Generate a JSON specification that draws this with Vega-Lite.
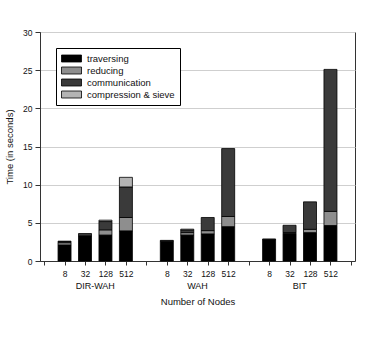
{
  "$schema": "https://vega.github.io/schema/vega-lite/v6.json",
  "autosize": "none",
  "width": 315,
  "height": 229,
  "padding": {"left": 40, "top": 32, "right": 19, "bottom": 84},
  "config": {
    "font": "Liberation Sans",
    "view": {"stroke": "#333", "strokeWidth": 1},
    "axis": {"labelColor": "#111", "titleColor": "#111", "titleFontWeight": "normal", "domainColor": "#333", "tickColor": "#333"}
  },
  "layer": [
    {
      "data": {
        "values": [
          {"scheme": "DIR-WAH", "nodes": "8", "phase": "traversing", "time": 2.1},
          {"scheme": "DIR-WAH", "nodes": "8", "phase": "reducing", "time": 0.3},
          {"scheme": "DIR-WAH", "nodes": "8", "phase": "communication", "time": 0.15},
          {"scheme": "DIR-WAH", "nodes": "8", "phase": "compression & sieve", "time": 0.05},
          {"scheme": "DIR-WAH", "nodes": "32", "phase": "traversing", "time": 3.3},
          {"scheme": "DIR-WAH", "nodes": "32", "phase": "communication", "time": 0.3},
          {"scheme": "DIR-WAH", "nodes": "128", "phase": "traversing", "time": 3.4},
          {"scheme": "DIR-WAH", "nodes": "128", "phase": "reducing", "time": 0.68},
          {"scheme": "DIR-WAH", "nodes": "128", "phase": "communication", "time": 1.09},
          {"scheme": "DIR-WAH", "nodes": "128", "phase": "compression & sieve", "time": 0.18},
          {"scheme": "DIR-WAH", "nodes": "512", "phase": "traversing", "time": 3.95},
          {"scheme": "DIR-WAH", "nodes": "512", "phase": "reducing", "time": 1.75},
          {"scheme": "DIR-WAH", "nodes": "512", "phase": "communication", "time": 4.0},
          {"scheme": "DIR-WAH", "nodes": "512", "phase": "compression & sieve", "time": 1.26},
          {"scheme": "WAH", "nodes": "8", "phase": "traversing", "time": 2.6},
          {"scheme": "WAH", "nodes": "8", "phase": "communication", "time": 0.1},
          {"scheme": "WAH", "nodes": "32", "phase": "traversing", "time": 3.4},
          {"scheme": "WAH", "nodes": "32", "phase": "reducing", "time": 0.32},
          {"scheme": "WAH", "nodes": "32", "phase": "communication", "time": 0.33},
          {"scheme": "WAH", "nodes": "32", "phase": "compression & sieve", "time": 0.12},
          {"scheme": "WAH", "nodes": "128", "phase": "traversing", "time": 3.55},
          {"scheme": "WAH", "nodes": "128", "phase": "reducing", "time": 0.43},
          {"scheme": "WAH", "nodes": "128", "phase": "communication", "time": 1.72},
          {"scheme": "WAH", "nodes": "512", "phase": "traversing", "time": 4.5},
          {"scheme": "WAH", "nodes": "512", "phase": "reducing", "time": 1.33},
          {"scheme": "WAH", "nodes": "512", "phase": "communication", "time": 8.9},
          {"scheme": "BIT", "nodes": "8", "phase": "traversing", "time": 2.8},
          {"scheme": "BIT", "nodes": "8", "phase": "communication", "time": 0.09},
          {"scheme": "BIT", "nodes": "32", "phase": "traversing", "time": 3.6},
          {"scheme": "BIT", "nodes": "32", "phase": "reducing", "time": 0.13},
          {"scheme": "BIT", "nodes": "32", "phase": "communication", "time": 0.95},
          {"scheme": "BIT", "nodes": "128", "phase": "traversing", "time": 3.72},
          {"scheme": "BIT", "nodes": "128", "phase": "reducing", "time": 0.43},
          {"scheme": "BIT", "nodes": "128", "phase": "communication", "time": 3.6},
          {"scheme": "BIT", "nodes": "512", "phase": "traversing", "time": 4.65},
          {"scheme": "BIT", "nodes": "512", "phase": "reducing", "time": 1.85},
          {"scheme": "BIT", "nodes": "512", "phase": "communication", "time": 18.6}
        ]
      },
      "transform": [
        {"calculate": "datum.scheme + ' ' + datum.nodes", "as": "slot"},
        {"calculate": "indexof(['traversing','reducing','communication','compression & sieve'], datum.phase)", "as": "stackOrder"}
      ],
      "mark": {"type": "bar", "size": 13, "stroke": "#000", "strokeWidth": 0.8},
      "encoding": {
        "x": {
          "field": "slot",
          "type": "nominal",
          "scale": {
            "type": "point",
            "padding": 0.2,
            "domain": ["_a", "DIR-WAH 8", "DIR-WAH 32", "DIR-WAH 128", "DIR-WAH 512", "_b", "WAH 8", "WAH 32", "WAH 128", "WAH 512", "_c", "BIT 8", "BIT 32", "BIT 128", "BIT 512", "_d"]
          },
          "axis": {
            "orient": "bottom",
            "title": null,
            "labelAngle": 0,
            "labelFontSize": 8.5,
            "tickSize": 4,
            "labelPadding": 4,
            "grid": false,
            "labelExpr": "substring(datum.label, 0, 1) == '_' ? '' : split(datum.label, ' ')[1]"
          }
        },
        "y": {
          "field": "time",
          "type": "quantitative",
          "stack": "zero",
          "scale": {"domain": [0, 30], "nice": false},
          "axis": {
            "title": "Time (in seconds)",
            "titleFontSize": 9.5,
            "labelFontSize": 8.5,
            "values": [0, 5, 10, 15, 20, 25, 30],
            "tickSize": 5,
            "labelPadding": 3,
            "titlePadding": 8,
            "gridColor": "#cfcfcf",
            "gridWidth": 1
          }
        },
        "order": {"field": "stackOrder", "type": "quantitative", "sort": "ascending"},
        "color": {
          "field": "phase",
          "type": "nominal",
          "scale": {
            "domain": ["traversing", "reducing", "communication", "compression & sieve"],
            "range": ["#000000", "#8e8e8e", "#3a3a3a", "#b4b4b4"]
          },
          "legend": {
            "title": null,
            "orient": "none",
            "legendX": 16,
            "legendY": 16,
            "fillColor": "#ffffff",
            "strokeColor": "#000000",
            "padding": 5,
            "labelFontSize": 9.5,
            "labelColor": "#111",
            "symbolType": "M-2,-0.7H2V0.7H-2Z",
            "symbolSize": 100,
            "symbolOffset": 5,
            "labelOffset": 10,
            "symbolStrokeColor": "#000",
            "symbolStrokeWidth": 0.8,
            "symbolOpacity": 1,
            "rowPadding": 1
          }
        }
      }
    },
    {
      "data": {"values": [{"scheme": "DIR-WAH"}, {"scheme": "WAH"}, {"scheme": "BIT"}]},
      "mark": {"type": "point", "opacity": 0},
      "encoding": {
        "x": {
          "field": "scheme",
          "type": "nominal",
          "scale": {"type": "band", "domain": ["DIR-WAH", "WAH", "BIT"], "paddingInner": 0, "paddingOuter": 0.04},
          "axis": {
            "orient": "bottom",
            "title": "Number of Nodes",
            "titleFontSize": 9.5,
            "titlePadding": 6,
            "labelFontSize": 9,
            "labelAngle": 0,
            "ticks": false,
            "domain": false,
            "grid": false,
            "labelPadding": 20
          }
        }
      }
    }
  ],
  "resolve": {"scale": {"x": "independent"}, "axis": {"x": "independent"}}
}
